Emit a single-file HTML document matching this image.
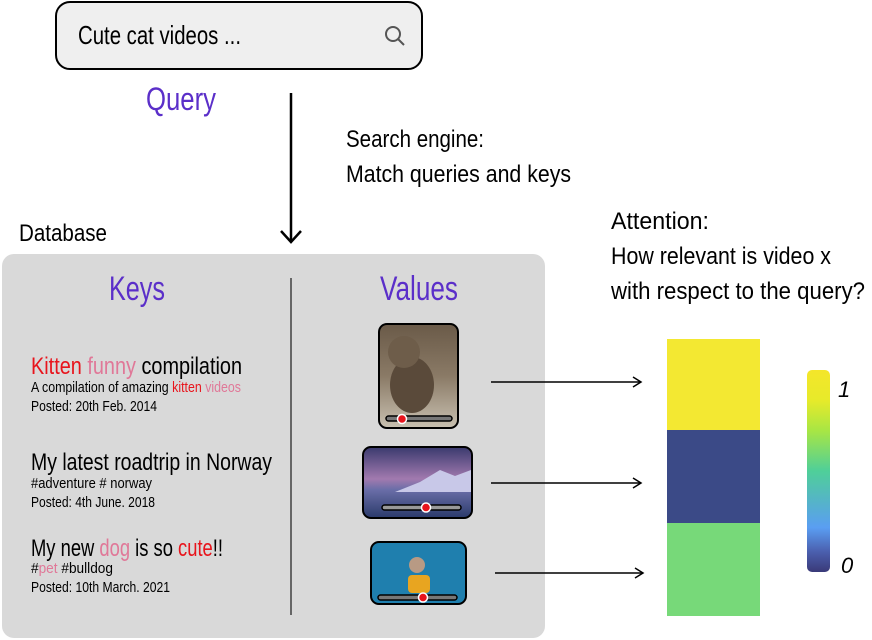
<!DOCTYPE html>
<html><head><meta charset="utf-8"><style>
html,body{margin:0;padding:0;background:#fff;width:872px;height:640px;overflow:hidden}
svg{display:block}
text{font-family:"Liberation Sans Narrow","Liberation Sans",sans-serif}
</style></head><body>
<svg width="872" height="640" viewBox="0 0 872 640" xmlns="http://www.w3.org/2000/svg">
<defs>
<linearGradient id="cb" x1="0" y1="0" x2="0" y2="1">
<stop offset="0" stop-color="#f4e62a"/>
<stop offset="0.15" stop-color="#e7ea2a"/>
<stop offset="0.3" stop-color="#a8e644"/>
<stop offset="0.5" stop-color="#4fcf99"/>
<stop offset="0.65" stop-color="#55b4c8"/>
<stop offset="0.78" stop-color="#5a9ef2"/>
<stop offset="0.9" stop-color="#4b5fae"/>
<stop offset="1" stop-color="#3a3a78"/>
</linearGradient>
<linearGradient id="cat" x1="0" y1="0" x2="0" y2="1"><stop offset="0" stop-color="#6a5a48"/><stop offset="0.5" stop-color="#8a7a66"/><stop offset="1" stop-color="#c8c0b0"/></linearGradient>
<linearGradient id="land" x1="0" y1="0" x2="0" y2="1"><stop offset="0" stop-color="#3a3a6e"/><stop offset="0.45" stop-color="#a27aaf"/><stop offset="0.6" stop-color="#6a6ea8"/><stop offset="1" stop-color="#2a3a6a"/></linearGradient>
</defs>
<!-- search box -->
<rect x="56" y="2" width="366" height="67" rx="14" fill="#efefef" stroke="#000" stroke-width="2"/>
<text x="78" y="44" font-size="26" textLength="163" lengthAdjust="spacingAndGlyphs">Cute cat videos ...</text>
<circle cx="393" cy="34" r="7" fill="none" stroke="#555" stroke-width="2"/>
<line x1="398" y1="39" x2="404" y2="45" stroke="#555" stroke-width="2"/>
<text x="146" y="110" font-size="32" fill="#5b2fc9" textLength="70" lengthAdjust="spacingAndGlyphs">Query</text>
<!-- down arrow -->
<line x1="291" y1="93" x2="291" y2="242" stroke="#000" stroke-width="2.5"/>
<polyline points="281,231 291,242 301,231" fill="none" stroke="#000" stroke-width="2.5"/>
<text x="346" y="147" font-size="24" textLength="138" lengthAdjust="spacingAndGlyphs">Search engine:</text>
<text x="346" y="182" font-size="24" textLength="225" lengthAdjust="spacingAndGlyphs">Match queries and keys</text>
<text x="19" y="241" font-size="24" textLength="88" lengthAdjust="spacingAndGlyphs">Database</text>
<!-- db box -->
<rect x="2" y="254" width="543" height="384" rx="12" fill="#d9d9d9"/>
<line x1="291" y1="278" x2="291" y2="615" stroke="#666" stroke-width="2"/>
<text x="109" y="300" font-size="34" fill="#5b2fc9" textLength="56" lengthAdjust="spacingAndGlyphs">Keys</text>
<text x="380" y="300" font-size="34" fill="#5b2fc9" textLength="78" lengthAdjust="spacingAndGlyphs">Values</text>
<!-- keys -->
<text x="31" y="374" font-size="24" textLength="211" lengthAdjust="spacingAndGlyphs"><tspan fill="#e8141c">Kitten</tspan> <tspan fill="#e07898">funny</tspan> compilation</text>
<text x="31" y="392" font-size="15" textLength="210" lengthAdjust="spacingAndGlyphs">A compilation of amazing <tspan fill="#e8141c">kitten</tspan> <tspan fill="#e07898">videos</tspan></text>
<text x="31" y="411" font-size="15" textLength="126" lengthAdjust="spacingAndGlyphs">Posted: 20th Feb. 2014</text>
<text x="31" y="470" font-size="24" textLength="241" lengthAdjust="spacingAndGlyphs">My latest roadtrip in Norway</text>
<text x="31" y="488" font-size="15" textLength="121" lengthAdjust="spacingAndGlyphs">#adventure # norway</text>
<text x="31" y="507" font-size="15" textLength="124" lengthAdjust="spacingAndGlyphs">Posted: 4th June. 2018</text>
<text x="31" y="556" font-size="24" textLength="192" lengthAdjust="spacingAndGlyphs">My new <tspan fill="#e07898">dog</tspan> is so <tspan fill="#e8141c">cute</tspan>!!</text>
<text x="31" y="573" font-size="15" textLength="82" lengthAdjust="spacingAndGlyphs">#<tspan fill="#e07898">pet</tspan> #bulldog</text>
<text x="31" y="592" font-size="15" textLength="139" lengthAdjust="spacingAndGlyphs">Posted: 10th March. 2021</text>
<!-- images -->
<rect x="379" y="324" width="79" height="104" rx="8" fill="url(#cat)" stroke="#000" stroke-width="2"/>
<ellipse cx="412" cy="385" rx="22" ry="28" fill="#5a4a3a"/>
<circle cx="404" cy="352" r="16" fill="#6e5d4a"/>
<rect x="386" y="416" width="66" height="5" rx="2.5" fill="#777" stroke="#000" stroke-width="1.5"/>
<circle cx="402" cy="419" r="4.5" fill="#e8141c" stroke="#fff" stroke-width="1.5"/>
<rect x="363" y="447" width="109" height="71" rx="8" fill="url(#land)" stroke="#000" stroke-width="2"/>
<polygon points="395,492 420,482 440,470 455,476 471,470 471,492" fill="#c8c8e8"/>
<rect x="382" y="505" width="79" height="5" rx="2.5" fill="#999" stroke="#000" stroke-width="1.5"/>
<circle cx="426" cy="507.5" r="4.5" fill="#e8141c" stroke="#fff" stroke-width="1.5"/>
<rect x="371" y="542" width="95" height="62" rx="8" fill="#1f7fae" stroke="#000" stroke-width="2"/>
<rect x="408" y="575" width="22" height="18" rx="4" fill="#e8a520"/>
<circle cx="417" cy="565" r="8" fill="#b89a84"/>
<rect x="378" y="595" width="79" height="5" rx="2.5" fill="#777" stroke="#000" stroke-width="1.5"/>
<circle cx="423" cy="597.5" r="4.5" fill="#e8141c" stroke="#fff" stroke-width="1.5"/>
<!-- arrows -->
<g stroke="#000" stroke-width="1.5" fill="none">
<line x1="491" y1="382" x2="641" y2="382"/><polyline points="633,377 641,382 633,387"/>
<line x1="491" y1="483" x2="641" y2="483"/><polyline points="633,478 641,483 633,488"/>
<line x1="495" y1="573" x2="643" y2="573"/><polyline points="635,568 643,573 635,578"/>
</g>
<!-- attention -->
<text x="611" y="229" font-size="24" textLength="98" lengthAdjust="spacingAndGlyphs">Attention:</text>
<text x="611" y="264" font-size="24" textLength="220" lengthAdjust="spacingAndGlyphs">How relevant is video x</text>
<text x="611" y="299" font-size="24" textLength="254" lengthAdjust="spacingAndGlyphs">with respect  to the query?</text>
<rect x="667" y="339" width="93" height="91" fill="#f3e832"/>
<rect x="667" y="430" width="93" height="93" fill="#3b4a87"/>
<rect x="667" y="523" width="93" height="93" fill="#77d979"/>
<rect x="807" y="370" width="23" height="202" rx="5" fill="url(#cb)"/>
<text x="838" y="397" font-size="22" font-style="italic" font-family="Liberation Mono,monospace">1</text>
<text x="841" y="573" font-size="22" font-style="italic" font-family="Liberation Mono,monospace">0</text>
</svg>
</body></html>
